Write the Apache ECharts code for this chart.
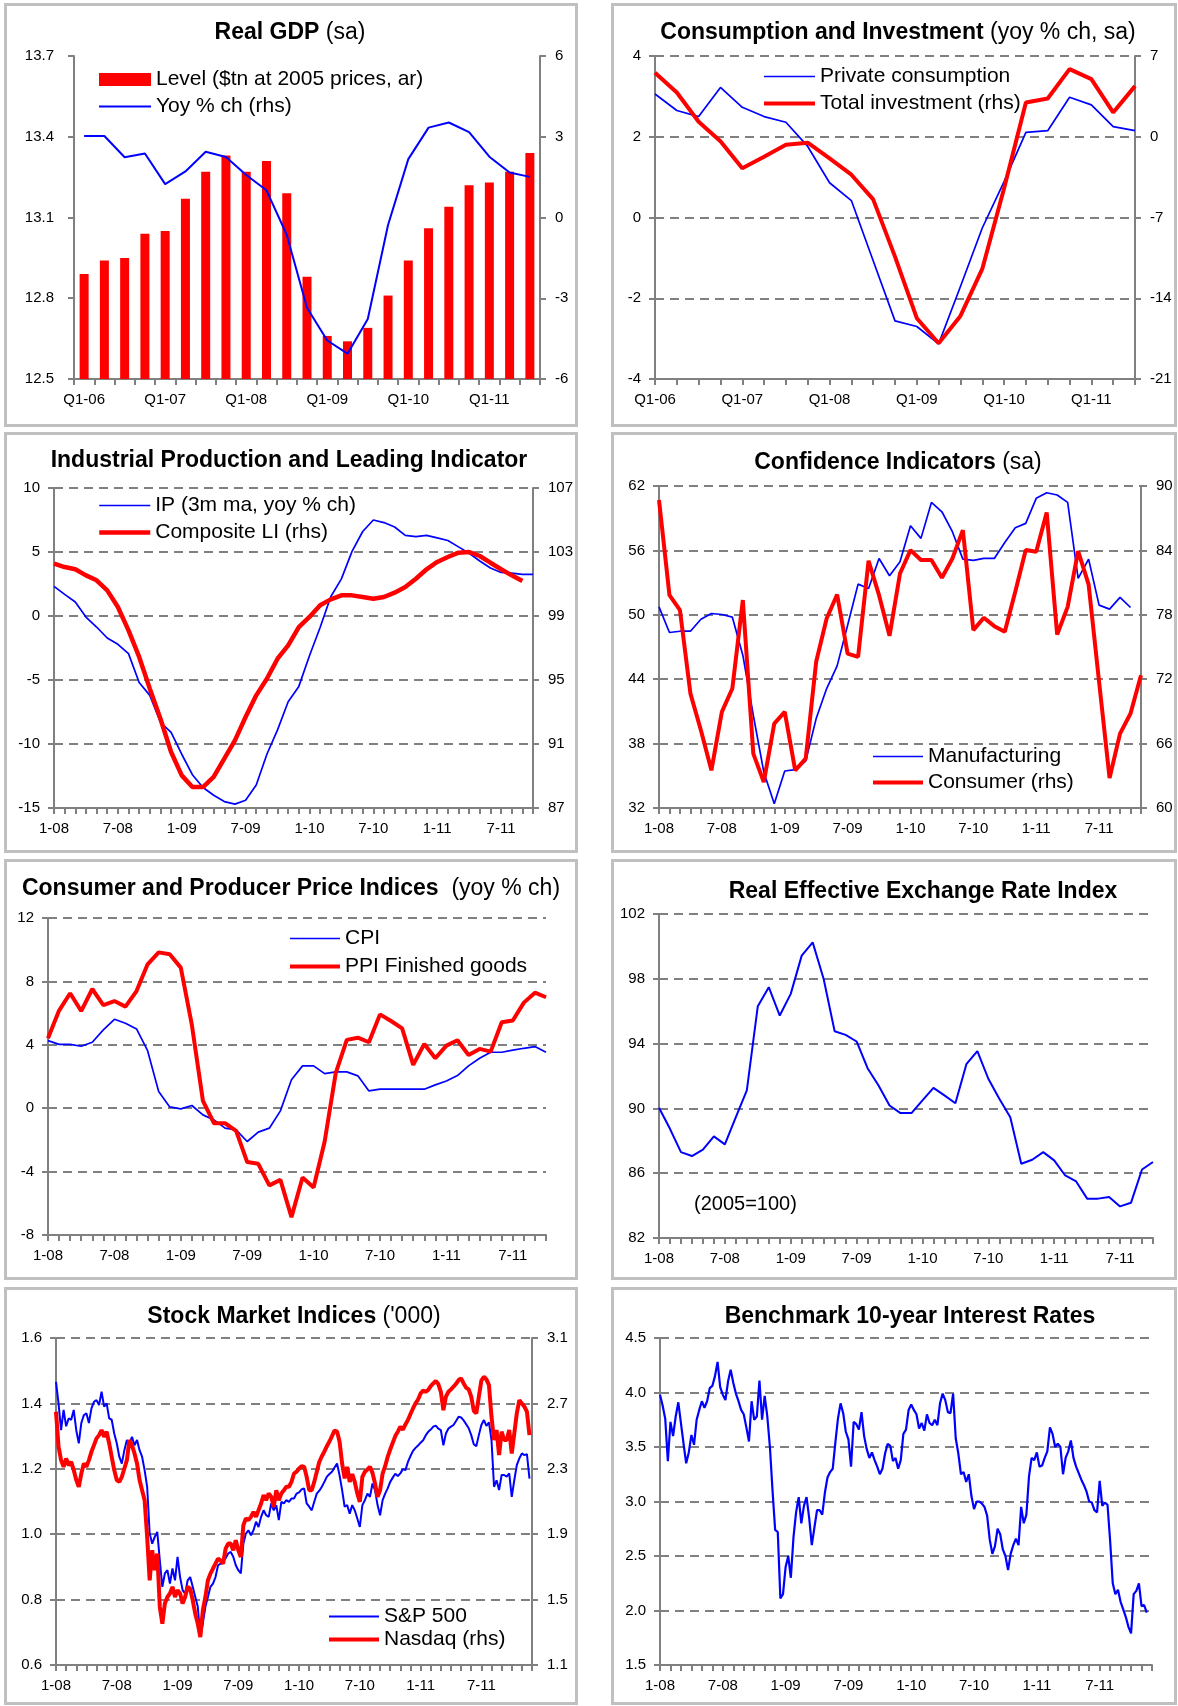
<!DOCTYPE html>
<html lang="en">
<head>
    <meta charset="UTF-8">
    <title>US economy charts</title>
    <style>html,body{margin:0;padding:0;background:#fff}</style>
</head>
<body>
<div id="main" style="width:1178px;height:1706px"></div>
<script src="https://cdn.jsdelivr.net/npm/echarts@6/dist/echarts.min.js"></script>
<script>
    // ---- data ----
    var quarters = ['Q1-06','Q2-06','Q3-06','Q4-06','Q1-07','Q2-07','Q3-07','Q4-07','Q1-08','Q2-08','Q3-08','Q4-08',
        'Q1-09','Q2-09','Q3-09','Q4-09','Q1-10','Q2-10','Q3-10','Q4-10','Q1-11','Q2-11','Q3-11'];
    var gdpLevel = [12.89, 12.94, 12.95, 13.04, 13.05, 13.17, 13.27, 13.33, 13.27, 13.31, 13.19, 12.88,
        12.66, 12.64, 12.69, 12.81, 12.94, 13.06, 13.14, 13.22, 13.23, 13.27, 13.34];
    var gdpYoy = [3.03, 3.03, 2.24, 2.38, 1.24, 1.71, 2.44, 2.25, 1.58, 1.01, -0.64, -3.35,
        -4.57, -5.06, -3.77, -0.28, 2.17, 3.34, 3.53, 3.17, 2.26, 1.67, 1.51];
    var consumption = [3.06, 2.65, 2.50, 3.22, 2.73, 2.50, 2.36, 1.76, 0.86, 0.42, -1.07, -2.56,
        -2.70, -3.13, -1.71, -0.26, 0.89, 2.11, 2.15, 2.98, 2.79, 2.25, 2.15];
    var investment = [5.54, 3.84, 1.30, -0.38, -2.74, -1.73, -0.69, -0.52, -1.88, -3.29, -5.43, -10.39,
        -15.73, -17.90, -15.53, -11.46, -4.47, 2.97, 3.32, 5.86, 4.99, 2.11, 4.39];

    var ipYoy = [2.32, 1.69, 1.09, -0.08, -0.86, -1.72, -2.21, -2.94, -5.2, -6.2,
        -8.3, -9.1, -10.8, -12.4, -13.4, -14.0, -14.5, -14.7, -14.4, -13.2,
        -10.8, -8.9, -6.7, -5.5, -3.1, -0.9, 1.5, 2.9, 5.05, 6.6,
        7.5, 7.3, 6.95, 6.3, 6.2, 6.3, 6.1, 5.9, 5.4, 4.9,
        4.3, 3.75, 3.4, 3.35, 3.25, 3.25];
    var leadingInd = [102.27, 102.06, 101.92, 101.54, 101.23, 100.6, 99.56, 98.1, 96.44, 94.46,
        92.58, 90.5, 89.04, 88.31, 88.31, 88.94, 90.08, 91.23, 92.69, 94.04,
        95.08, 96.33, 97.17, 98.31, 98.94, 99.67, 100.04, 100.29, 100.29, 100.19,
        100.08, 100.19, 100.46, 100.81, 101.33, 101.92, 102.38, 102.69, 102.96, 103.0,
        102.75, 102.33, 101.92, 101.54, 101.19];

    var confManuf = [50.74, 48.35, 48.47, 48.47, 49.59, 50.12, 50.03, 49.78, 46.24, 40.64,
        35.36, 32.40, 35.45, 35.57, 36.38, 40.33, 43.13, 45.24, 49.03, 52.86,
        52.45, 55.25, 53.64, 54.94, 58.30, 57.12, 60.47, 59.60, 57.74, 55.19,
        55.07, 55.25, 55.25, 56.74, 58.11, 58.52, 60.85, 61.37, 61.16, 60.47,
        53.39, 55.19, 50.90, 50.53, 51.62, 50.68];
    var confConsumer = [88.69, 79.83, 78.43, 70.66, 67.24, 63.51, 68.95, 71.13, 79.37, 65.07,
        62.42, 67.86, 68.95, 63.51, 64.60, 73.62, 77.66, 79.89, 74.39, 74.08,
        83.03, 79.83, 76.04, 81.85, 84.03, 83.10, 83.10, 81.45, 83.25, 85.89,
        76.57, 77.72, 76.94, 76.41, 80.14, 84.03, 83.87, 87.54, 76.16, 78.74,
        83.94, 80.83, 71.75, 62.80, 66.93, 68.80, 72.37];

    var cpi = [4.26, 4.03, 4.03, 3.91, 4.16, 4.94, 5.61, 5.36, 5.0, 3.63,
        1.05, 0.08, -0.04, 0.17, -0.42, -0.74, -1.26, -1.37, -2.10, -1.51,
        -1.26, -0.17, 1.79, 2.67, 2.67, 2.18, 2.29, 2.29, 2.04, 1.09,
        1.20, 1.20, 1.20, 1.20, 1.20, 1.47, 1.72, 2.06, 2.67, 3.15,
        3.53, 3.53, 3.66, 3.78, 3.89, 3.53];
    var ppi = [4.41, 6.16, 7.25, 6.13, 7.52, 6.51, 6.76, 6.41, 7.39, 9.08,
        9.83, 9.71, 8.87, 5.25, 0.46, -0.95, -0.95, -1.43, -3.40, -3.51,
        -4.87, -4.52, -6.87, -4.37, -5.0, -2.10, 2.21, 4.31, 4.45, 4.16,
        5.92, 5.50, 5.04, 2.73, 4.05, 3.15, 3.95, 4.29, 3.36, 3.74,
        3.57, 5.42, 5.53, 6.66, 7.29, 7.0];

    var reer = [90.04, 88.74, 87.30, 87.06, 87.45, 88.27, 87.78, 89.46, 91.11, 96.31,
        97.48, 95.73, 97.07, 99.43, 100.25, 97.99, 94.76, 94.54, 94.13, 92.48,
        91.41, 90.18, 89.71, 89.71, 90.49, 91.27, 90.80, 90.32, 92.73, 93.53,
        91.83, 90.59, 89.46, 86.58, 86.83, 87.30, 86.79, 85.86, 85.49, 84.43,
        84.43, 84.53, 83.95, 84.18, 86.23, 86.69];

    // quarter-month readings from 1 Jan 2008
    var sp500 = [1.466, 1.40, 1.318, 1.38, 1.33, 1.354, 1.35, 1.38, 1.318, 1.278,
        1.34, 1.364, 1.37, 1.34, 1.385, 1.405, 1.41, 1.395, 1.436, 1.39,
        1.40, 1.354, 1.35, 1.308, 1.278, 1.237, 1.216, 1.257, 1.288, 1.278,
        1.298, 1.272, 1.288, 1.257, 1.237, 1.196, 1.145, 1.002, 0.971, 0.992,
        1.007, 0.920, 0.839, 0.880, 0.890, 0.849, 0.895, 0.859, 0.931, 0.869,
        0.829, 0.818, 0.859, 0.869, 0.839, 0.808, 0.778, 0.686, 0.727, 0.778,
        0.808, 0.839, 0.849, 0.869, 0.905, 0.910, 0.920, 0.926, 0.941, 0.946,
        0.931, 0.905, 0.890, 0.880, 0.971, 1.002, 1.012, 0.997, 1.012, 1.038,
        1.022, 1.053, 1.073, 1.058, 1.053, 1.094, 1.073, 1.089, 1.043, 1.099,
        1.094, 1.104, 1.099, 1.109, 1.109, 1.124, 1.128, 1.137, 1.14, 1.094,
        1.084, 1.073, 1.099, 1.124, 1.133, 1.145, 1.160, 1.176, 1.184, 1.191,
        1.204, 1.216, 1.180, 1.135, 1.084, 1.089, 1.063, 1.089, 1.073, 1.048,
        1.022, 1.089, 1.104, 1.124, 1.114, 1.155, 1.135, 1.089, 1.058, 1.104,
        1.124, 1.140, 1.160, 1.173, 1.185, 1.178, 1.186, 1.199, 1.196, 1.221,
        1.239, 1.255, 1.264, 1.271, 1.280, 1.287, 1.302, 1.313, 1.320, 1.329,
        1.332, 1.323, 1.318, 1.272, 1.308, 1.323, 1.329, 1.334, 1.346, 1.359,
        1.357, 1.348, 1.336, 1.324, 1.303, 1.275, 1.269, 1.303, 1.334, 1.349,
        1.331, 1.342, 1.288, 1.145, 1.165, 1.135, 1.181, 1.181, 1.176, 1.186,
        1.114, 1.165, 1.211, 1.232, 1.247, 1.242, 1.245, 1.170];
    var nasdaq = [2.649, 2.435, 2.353, 2.312, 2.363, 2.322, 2.343, 2.292, 2.231, 2.190,
        2.271, 2.333, 2.312, 2.353, 2.404, 2.445, 2.486, 2.506, 2.537, 2.496,
        2.527, 2.455, 2.373, 2.292, 2.231, 2.22, 2.251, 2.302, 2.353, 2.476,
        2.445, 2.394, 2.333, 2.231, 2.169, 2.108, 1.884, 1.618, 1.802, 1.680,
        1.782, 1.455, 1.353, 1.476, 1.516, 1.537, 1.578, 1.516, 1.557, 1.537,
        1.476, 1.516, 1.578, 1.567, 1.496, 1.414, 1.353, 1.271, 1.435, 1.516,
        1.618, 1.659, 1.690, 1.720, 1.751, 1.739, 1.720, 1.812, 1.843, 1.843,
        1.802, 1.863, 1.802, 1.761, 1.955, 1.996, 1.986, 2.006, 2.037, 2.006,
        2.047, 2.088, 2.139, 2.108, 2.149, 2.129, 2.067, 2.169, 2.108, 2.149,
        2.169, 2.190, 2.190, 2.220, 2.271, 2.282, 2.302, 2.316, 2.312, 2.251,
        2.169, 2.169, 2.220, 2.282, 2.343, 2.377, 2.406, 2.439, 2.467, 2.500,
        2.533, 2.529, 2.465, 2.333, 2.241, 2.312, 2.220, 2.267, 2.220, 2.149,
        2.098, 2.251, 2.282, 2.296, 2.312, 2.275, 2.210, 2.129, 2.169, 2.271,
        2.316, 2.373, 2.418, 2.459, 2.500, 2.527, 2.557, 2.539, 2.571, 2.598,
        2.635, 2.669, 2.700, 2.724, 2.761, 2.778, 2.771, 2.782, 2.806, 2.822,
        2.837, 2.818, 2.771, 2.659, 2.741, 2.771, 2.786, 2.802, 2.820, 2.843,
        2.853, 2.822, 2.796, 2.786, 2.741, 2.655, 2.639, 2.741, 2.839, 2.863,
        2.847, 2.812, 2.618, 2.476, 2.537, 2.384, 2.527, 2.476, 2.476, 2.537,
        2.394, 2.516, 2.639, 2.720, 2.700, 2.680, 2.649, 2.506];
    var tenYear = [3.98, 3.88, 3.76, 3.37, 3.73, 3.60, 3.78, 3.91, 3.72, 3.53,
        3.35, 3.45, 3.61, 3.52, 3.75, 3.84, 3.92, 3.86, 3.92, 4.04,
        4.06, 4.15, 4.28, 4.05, 3.98, 3.93, 4.10, 4.21, 4.09, 3.99,
        3.92, 3.84, 3.80, 3.68, 3.55, 3.92, 3.75, 3.78, 4.11, 3.75,
        3.97, 3.78, 3.50, 3.10, 2.74, 2.72, 2.11, 2.15, 2.40, 2.50,
        2.30, 2.67, 2.90, 3.04, 2.80, 2.96, 3.04, 2.85, 2.60, 2.76,
        2.92, 2.92, 2.88, 3.08, 3.22, 3.27, 3.30, 3.54, 3.76, 3.90,
        3.81, 3.64, 3.57, 3.32, 3.73, 3.71, 3.66, 3.82, 3.60, 3.48,
        3.40, 3.45, 3.38, 3.32, 3.25, 3.30, 3.44, 3.53, 3.51, 3.37,
        3.40, 3.30, 3.38, 3.62, 3.66, 3.84, 3.89, 3.84, 3.80, 3.67,
        3.72, 3.65, 3.80, 3.72, 3.70, 3.75, 3.70, 3.90, 3.99, 3.93,
        3.82, 3.81, 3.99, 3.58, 3.44, 3.25, 3.27, 3.18, 3.25, 3.05,
        2.93, 3.00, 3.00, 2.98, 2.95, 2.87, 2.65, 2.52, 2.59, 2.75,
        2.70, 2.56, 2.50, 2.37, 2.52, 2.60, 2.66, 2.60, 2.95, 2.80,
        2.88, 3.23, 3.40, 3.38, 3.45, 3.32, 3.33, 3.40, 3.46, 3.68,
        3.62, 3.50, 3.53, 3.50, 3.25, 3.40, 3.46, 3.56, 3.40, 3.32,
        3.26, 3.20, 3.15, 3.09, 3.00, 2.99, 2.92, 2.90, 3.19, 2.96,
        2.99, 2.97, 2.64, 2.25, 2.15, 2.19, 2.08, 2.01, 1.94, 1.85,
        1.79, 2.15, 2.18, 2.25, 2.04, 2.05, 1.98];

    // tick labels that don't start on a multiple of their step
    var gdpLevelTicks = [12.5, 12.8, 13.1, 13.4, 13.7];
    var liTicks = [87, 91, 95, 99, 103, 107];
    var manufTicks = [32, 38, 44, 50, 56, 62];
    var reerTicks = [82, 86, 90, 94, 98, 102];
    var nasdaqTicks = [1.1, 1.5, 1.9, 2.3, 2.7, 3.1];

    // ---- helpers ----
    var FONT = '"Liberation Sans", Arial, sans-serif';
    var GRAY = '#808080', BLUE = '#0000ff', RED = '#ff0000';

    function monthLabel(m) {
        var yy = 8 + Math.floor(m / 12);
        return (m % 12 + 1) + '-' + (yy < 10 ? '0' + yy : '' + yy);
    }
    function monthCats(n) {
        var a = [];
        for (var i = 0; i < n; i++) a.push(monthLabel(i));
        return a;
    }
    function quarterMonth(arr) {
        return arr.map(function (v, i) { return [i / 4, v]; });
    }

    var dashed = {show: true, lineStyle: {color: GRAY, width: 2, type: [9, 6]}};
    function aLine() { return {show: true, onZero: false, lineStyle: {color: GRAY, width: 2}}; }
    function aTick(extra) { return Object.assign({show: true, length: 6, lineStyle: {color: GRAY, width: 2}}, extra || {}); }
    function aLabel(margin, extra) { return Object.assign({color: '#000', fontSize: 15, fontFamily: FONT, margin: margin}, extra || {}); }

    function catX(grid, cats, gap, every) {
        return {type: 'category', gridIndex: grid, data: cats, boundaryGap: gap,
            axisLine: aLine(), axisTick: aTick({interval: 0}),
            axisLabel: aLabel(13, {interval: every}), splitLine: {show: false}};
    }
    function monthX(grid) {
        return {type: 'value', gridIndex: grid, min: 0, max: 47, interval: 1,
            axisLine: aLine(), axisTick: aTick(),
            axisLabel: aLabel(13, {formatter: function (v) { return v % 6 === 0 ? monthLabel(v) : ''; }}),
            splitLine: {show: false}};
    }
    function yAx(grid, pos, min, max, o) {
        o = o || {};
        var ax = {type: 'value', gridIndex: grid, position: pos, min: min, max: max,
            axisLine: aLine(), axisTick: aTick(),
            axisLabel: aLabel(o.margin || (pos === 'left' ? 14 : 15)), splitLine: {show: false}};
        if (o.interval) ax.interval = o.interval;
        if (o.ticks) { ax.axisTick.customValues = o.ticks; ax.axisLabel.customValues = o.ticks; }
        if (o.digits != null) ax.axisLabel.formatter = function (v) { return v.toFixed(o.digits); };
        if (o.split) ax.splitLine = dashed;
        return ax;
    }
    function line(name, x, y, data, color, width) {
        return {name: name, type: 'line', xAxisIndex: x, yAxisIndex: y, data: data,
            symbol: 'none', color: color, lineStyle: {color: color, width: width}, silent: true};
    }
    function legend(names, left, top, gap, w) {
        return {data: names, orient: 'vertical', left: left, top: top, padding: 0,
            itemWidth: w || 51, itemHeight: 13, itemGap: gap, selectedMode: false,
            itemStyle: {opacity: 0},   // hides the circle drawn on line icons
            lineStyle: {width: 'inherit'},
            textStyle: {fontSize: 21, lineHeight: 21, color: '#000', fontFamily: FONT}};
    }
    function title(cx, cy, bold, normal) {
        return {type: 'text', x: cx, y: cy, silent: true,
            style: {text: '{b|' + bold + '}' + (normal ? '{n|' + normal + '}' : ''),
                align: 'center', verticalAlign: 'middle', fill: '#000',
                rich: {b: {fontSize: 23, fontWeight: 'bold', fontFamily: FONT},
                       n: {fontSize: 23, fontFamily: FONT}}}};
    }
    function frame(x, y, w, h) {
        return {type: 'rect', silent: true, shape: {x: x, y: y, width: w, height: h},
            style: {fill: 'none', stroke: '#c0c0c0', lineWidth: 3}};
    }

    var chart = echarts.init(document.getElementById('main'));

    var option = {
        animation: false,
        backgroundColor: '#fff',
        grid: [
            {left: 74, top: 56, width: 466, height: 323},
            {left: 655, top: 56, width: 480, height: 323},
            {left: 54, top: 488, width: 479, height: 320},
            {left: 659, top: 486, width: 482, height: 322},
            {left: 48, top: 918, width: 498, height: 317},
            {left: 659, top: 914, width: 494, height: 324},
            {left: 56, top: 1338, width: 476, height: 327},
            {left: 660, top: 1338, width: 492, height: 327}
        ],
        xAxis: [
            catX(0, quarters, true, 3),
            catX(1, quarters, false, 3),
            catX(2, monthCats(46), false, 5),
            catX(3, monthCats(47), false, 5),
            catX(4, monthCats(46), false, 5),
            catX(5, monthCats(46), false, 5),
            monthX(6),
            monthX(7)
        ],
        yAxis: [
            yAx(0, 'left', 12.5, 13.7, {ticks: gdpLevelTicks, digits: 1, margin: 20}),
            yAx(0, 'right', -6, 6, {interval: 3}),
            yAx(1, 'left', -4, 4, {interval: 2, split: true}),
            yAx(1, 'right', -21, 7, {interval: 7}),
            yAx(2, 'left', -15, 10, {interval: 5, split: true}),
            yAx(2, 'right', 87, 107, {ticks: liTicks}),
            yAx(3, 'left', 32, 62, {ticks: manufTicks}),
            yAx(3, 'right', 60, 90, {interval: 6, split: true}),
            yAx(4, 'left', -8, 12, {interval: 4, split: true}),
            yAx(5, 'left', 82, 102, {ticks: reerTicks}),
            {type: 'value', gridIndex: 5, position: 'right', min: 0, max: 20, interval: 4,
                axisLine: {show: false}, axisTick: {show: false}, axisLabel: {show: false}, splitLine: dashed},
            yAx(6, 'left', 0.6, 1.6, {interval: 0.2, digits: 1, split: true}),
            yAx(6, 'right', 1.1, 3.1, {ticks: nasdaqTicks, digits: 1}),
            yAx(7, 'left', 1.5, 4.5, {interval: 0.5, digits: 1, split: true})
        ],
        legend: [
            legend([{name: 'Level ($tn at 2005 prices, ar)', icon: 'rect', itemStyle: {opacity: 1}},
                'Yoy % ch (rhs)'], 98, 69, 6, 52),
            legend(['Private consumption', 'Total investment (rhs)'], 762, 66, 6),
            legend(['IP (3m ma, yoy % ch)', 'Composite LI (rhs)'], 97, 495, 6),
            legend(['Manufacturing', 'Consumer (rhs)'], 871, 746, 5, 50),
            legend(['CPI', 'PPI Finished goods'], 288, 928, 7, 50),
            legend(['S&P 500', 'Nasdaq (rhs)'], 327, 1606, 2, 50)
        ],
        series: [
            {name: 'Level ($tn at 2005 prices, ar)', type: 'bar', xAxisIndex: 0, yAxisIndex: 0,
                data: gdpLevel, barWidth: 9, color: RED, itemStyle: {color: RED}, silent: true},
            line('Yoy % ch (rhs)', 0, 1, gdpYoy, BLUE, 2),
            line('Private consumption', 1, 2, consumption, BLUE, 1.7),
            line('Total investment (rhs)', 1, 3, investment, RED, 4),
            line('IP (3m ma, yoy % ch)', 2, 4, ipYoy, BLUE, 1.7),
            line('Composite LI (rhs)', 2, 5, leadingInd, RED, 4.5),
            line('Manufacturing', 3, 6, confManuf, BLUE, 1.7),
            line('Consumer (rhs)', 3, 7, confConsumer, RED, 4),
            line('CPI', 4, 8, cpi, BLUE, 1.7),
            line('PPI Finished goods', 4, 8, ppi, RED, 4),
            line('Real effective exchange rate', 5, 9, reer, BLUE, 2),
            line('S&P 500', 6, 11, quarterMonth(sp500), BLUE, 2),
            line('Nasdaq (rhs)', 6, 12, quarterMonth(nasdaq), RED, 4),
            line('10-year yield', 7, 13, quarterMonth(tenYear), BLUE, 2.2)
        ],
        graphic: {elements: [
            frame(5.5, 4.5, 571, 421), frame(612.5, 4.5, 563, 421),
            frame(5.5, 433.5, 571, 418), frame(612.5, 433.5, 563, 418),
            frame(5.5, 860.5, 571, 418), frame(612.5, 860.5, 563, 418),
            frame(5.5, 1288.5, 571, 415), frame(612.5, 1288.5, 563, 415),
            title(290, 33, 'Real GDP', ' (sa)'),
            title(898, 33, 'Consumption and Investment', ' (yoy % ch, sa)'),
            title(289, 461, 'Industrial Production and Leading Indicator'),
            title(898, 463, 'Confidence Indicators', ' (sa)'),
            title(291, 889, 'Consumer and Producer Price Indices', '  (yoy % ch)'),
            title(923, 892, 'Real Effective Exchange Rate Index'),
            title(294, 1317, 'Stock Market Indices', " ('000)"),
            title(910, 1317, 'Benchmark 10-year Interest Rates'),
            {type: 'text', x: 694, y: 1204, silent: true,
                style: {text: '(2005=100)', fontSize: 20, fontFamily: FONT, fill: '#000', verticalAlign: 'middle'}}
        ]}
    };

    chart.setOption(option);
</script>
</body>
</html>
